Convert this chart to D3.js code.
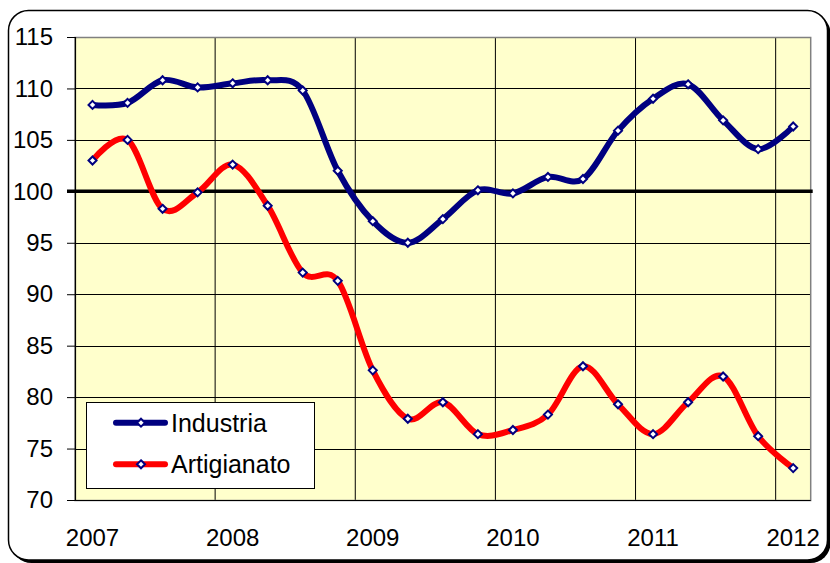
<!DOCTYPE html>
<html>
<head>
<meta charset="utf-8">
<script src="https://cdn.jsdelivr.net/npm/d3@7"></script>
<style>
body { margin: 0; background: #fff; }
svg text { font-family: "Liberation Sans", Arial, Helvetica, sans-serif; fill: #000; }
</style>
</head>
<body>
<div id="chart"></div>
<script>
var W = 830, H = 563;

// quarterly categories, 2007 Q1 .. 2012 Q1
var periodi = [];
for (var a = 2007; a <= 2012; a++) {
	for (var q = 1; q <= 4; q++) {
		if (a === 2012 && q > 1) break;
		periodi.push(a + "-T" + q);
	}
}
var anni = ["2007", "2008", "2009", "2010", "2011", "2012"];
var yTicks = [70, 75, 80, 85, 90, 95, 100, 105, 110, 115];

var industria = [108.4, 108.6, 110.8, 110.1, 110.5, 110.8, 109.8, 102.0, 97.1, 95.0,
	97.3, 100.1, 99.8, 101.4, 101.2, 105.9, 109.0, 110.4, 106.9, 104.1, 106.3];
var artigianato = [103.0, 105.0, 98.3, 99.9, 102.6, 98.6, 92.1, 91.3, 82.6, 77.9,
	79.5, 76.4, 76.8, 78.3, 83.0, 79.3, 76.4, 79.5, 82.0, 76.2, 73.1];

var navy = "#000080";
var red = "#ff0000";

var pLeft = 75, pRight = 810.7, pTop = 37, pBottom = 500;

var svg = d3.select("#chart").append("svg")
	.attr("width", W)
	.attr("height", H);

// chart frame with shadow
svg.append("rect")
	.attr("x", 11.5).attr("y", 13.5)
	.attr("width", 819).attr("height", 549.5)
	.attr("rx", 20).attr("ry", 20)
	.attr("fill", "#000");
svg.append("rect")
	.attr("x", 8.5).attr("y", 10.5)
	.attr("width", 819).attr("height", 549.5)
	.attr("rx", 20).attr("ry", 20)
	.attr("fill", "#fff")
	.attr("stroke", "#000")
	.attr("stroke-width", 1.5);

var x = d3.scaleBand().domain(periodi).range([pLeft, pRight]).paddingInner(0).paddingOuter(0);
var bw = x.bandwidth();
var cx = d => x(d) + bw / 2;
var y = d3.scaleLinear().domain([70, 115]).range([pBottom, pTop]);

var g = svg.append("g");

// plot area
g.append("rect")
	.attr("x", pLeft).attr("y", pTop)
	.attr("width", pRight - pLeft).attr("height", pBottom - pTop)
	.attr("fill", "#ffffcc");

// horizontal grid
g.selectAll("line.hg")
	.data(yTicks.filter(v => v !== 70 && v !== 100))
	.enter().append("line")
	.attr("class", "hg")
	.attr("x1", pLeft).attr("x2", pRight)
	.attr("y1", d => Math.round(y(d)) + 0.5).attr("y2", d => Math.round(y(d)) + 0.5)
	.attr("stroke", "#000").attr("stroke-width", 1);

// vertical grid between years
var vgrid = periodi.filter((d, i) => i > 0 && i % 4 === 0);
g.selectAll("line.vg")
	.data(vgrid)
	.enter().append("line")
	.attr("class", "vg")
	.attr("x1", d => x(d)).attr("x2", d => x(d))
	.attr("y1", pTop).attr("y2", pBottom)
	.attr("stroke", "#000").attr("stroke-width", 1);

// plot border
g.append("rect")
	.attr("x", pLeft).attr("y", pTop + 0.5)
	.attr("width", pRight - pLeft).attr("height", pBottom - pTop)
	.attr("fill", "none")
	.attr("stroke", "#808080").attr("stroke-width", 1.5);

// y axis
var yAxis = d3.axisLeft(y).tickValues(yTicks).tickSize(8).tickPadding(14).tickFormat(d3.format("d"));
var ya = g.append("g").attr("transform", "translate(" + pLeft + ",0)").call(yAxis);
ya.select(".domain").attr("stroke", "#000").attr("stroke-width", 1.2);
ya.selectAll(".tick line").attr("stroke", "#000");
ya.selectAll("text").style("font-size", "24px").attr("font-family", null);

// x axis baseline
g.append("line")
	.attr("x1", pLeft - 8).attr("x2", pRight)
	.attr("y1", pBottom + 0.5).attr("y2", pBottom + 0.5)
	.attr("stroke", "#000").attr("stroke-width", 1.2);

// x labels
g.selectAll("text.xl")
	.data(anni)
	.enter().append("text")
	.attr("class", "xl")
	.attr("x", (d, i) => cx(periodi[i * 4]))
	.attr("y", 546)
	.attr("text-anchor", "middle")
	.style("font-size", "24px")
	.text(d => d);

// reference line at 100
g.append("line")
	.attr("x1", pLeft - 8).attr("x2", pRight + 2)
	.attr("y1", y(100)).attr("y2", y(100))
	.attr("stroke", "#000").attr("stroke-width", 3.5);

var line = d3.line()
	.x((d, i) => cx(periodi[i]))
	.y(d => y(d))
	.curve(d3.curveCatmullRom.alpha(0));

function diamond(sel, px, py) {
	sel.append("path")
		.attr("d", "M" + px + "," + (py - 4) + "L" + (px + 4) + "," + py + "L" + px + "," + (py + 4) + "L" + (px - 4) + "," + py + "Z")
		.attr("fill", "#fff")
		.attr("stroke", navy)
		.attr("stroke-width", 2);
}

var series = [
	{ name: "Industria", values: industria, color: navy },
	{ name: "Artigianato", values: artigianato, color: red }
];

series.forEach(s => {
	g.append("path")
		.datum(s.values)
		.attr("d", line)
		.attr("fill", "none")
		.attr("stroke", s.color)
		.attr("stroke-width", 6)
		.attr("stroke-linejoin", "round")
		.attr("stroke-linecap", "round");
});

series.forEach(s => {
	var mg = g.append("g");
	s.values.forEach((v, i) => diamond(mg, cx(periodi[i]), y(v)));
});

// legend
var lg = svg.append("g");
lg.append("rect")
	.attr("x", 86.5).attr("y", 402.5)
	.attr("width", 228).attr("height", 86)
	.attr("fill", "#fff")
	.attr("stroke", "#000").attr("stroke-width", 1);

series.forEach((s, i) => {
	var ly = 422.7 + i * 41.6;
	lg.append("line")
		.attr("x1", 116).attr("x2", 165)
		.attr("y1", ly).attr("y2", ly)
		.attr("stroke", s.color).attr("stroke-width", 6)
		.attr("stroke-linecap", "round");
	diamond(lg, 141, ly);
	lg.append("text")
		.attr("x", 171)
		.attr("y", ly + 9)
		.style("font-size", "25px")
		.text(s.name);
});
</script>
</body>
</html>
